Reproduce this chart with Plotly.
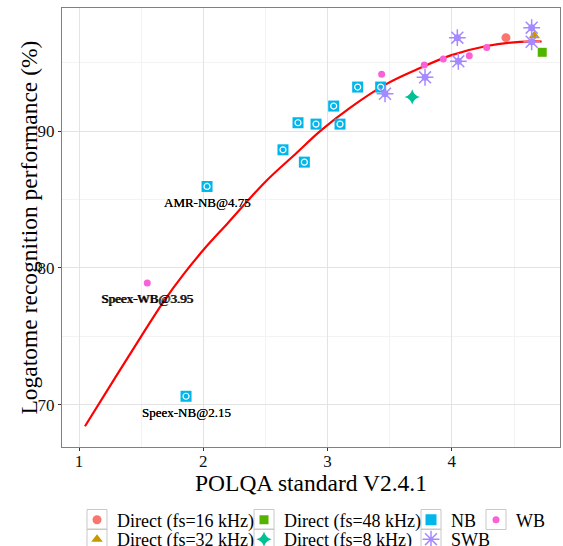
import plotly.graph_objects as go

# ---- data ----
d16_x, d16_y = [4.435], [96.83]
d32_x, d32_y = [4.663], [96.97]
d48_x, d48_y = [4.727], [95.76]
d8_x, d8_y = [3.681], [92.49]
nb_x = [1.861, 2.030, 2.641, 2.762, 2.813, 2.907, 3.049, 3.100, 3.242, 3.427]
nb_y = [70.61, 85.95, 88.63, 90.61, 87.73, 90.51, 91.83, 90.51, 93.22, 93.22]
wb_x = [1.549, 3.435, 3.778, 3.931, 4.140, 4.280]
wb_y = [78.90, 94.15, 94.83, 95.27, 95.51, 96.12]
swb_x = [4.642, 4.642, 4.044, 4.052, 3.784, 3.462]
swb_y = [97.56, 96.53, 96.83, 95.10, 93.93, 92.73]
fit_x = [1.048, 1.30, 1.504, 1.678, 1.839, 2.0, 2.2, 2.5, 2.75, 2.94, 3.18, 3.475, 3.717, 3.985, 4.28, 4.548, 4.722]
fit_y = [68.42, 72.1, 75.05, 77.5, 79.5, 81.3, 83.3, 86.3, 88.4, 90.0, 91.7, 93.45, 94.5, 95.52, 96.22, 96.53, 96.55]
label_text = ["AMR-NB@4.75", "Speex-WB@3.95", "Speex-NB@2.15"]
label_x = [2.030, 1.549, 1.861]
label_y = [85.95, 78.90, 70.61]
x_ticks = [1, 2, 3, 4]
y_ticks = [70, 80, 90]

SERIF = "Liberation Serif"
C16, C32, C48, C8, CNB, CSWB, CWB = "#F8766D", "#C49A00", "#53B400", "#00C094", "#00B6EB", "#A58AFF", "#FB61D7"

ML, MR, MT, MB, W, H = 62, 3, 8, 99, 563, 546
PW, PH = W - ML - MR, H - MT - MB


def px2paper_x(px):
    return (px - ML) / PW


def px2paper_y(py):
    return (H - MB - py) / PH


# legend layout (pixel positions of each entry's text start and row centre)
leg_pos = {
    "legend": (113, 519.5), "legend2": (113, 539),
    "legend3": (280, 519.5), "legend4": (280, 539),
    "legend5": (447, 519.5), "legend6": (447, 539),
    "legend7": (512, 519.5),
}

fig = go.Figure()

fig.add_trace(go.Scatter(x=fit_x, y=fit_y, mode="lines", line=dict(color="red", width=2.2, shape="spline"),
                         showlegend=False, hoverinfo="skip"))

fig.add_trace(go.Scatter(x=d16_x, y=d16_y, mode="markers", name="Direct (fs=16 kHz)", legend="legend",
                         marker=dict(symbol="circle", size=9, color=C16)))
fig.add_trace(go.Scatter(x=d32_x, y=d32_y, mode="markers", name="Direct (fs=32 kHz)", legend="legend2",
                         marker=dict(symbol="triangle-up", size=10, color=C32)))
fig.add_trace(go.Scatter(x=d48_x, y=d48_y, mode="markers", name="Direct (fs=48 kHz)", legend="legend3",
                         marker=dict(symbol="square", size=9, color=C48)))
fig.add_trace(go.Scatter(x=d8_x, y=d8_y, mode="markers", name="Direct (fs=8 kHz)", legend="legend4",
                         marker=dict(symbol="star-diamond", size=11, color=C8)))
fig.add_trace(go.Scatter(x=nb_x, y=nb_y, mode="markers", name="NB", legend="legend5",
                         marker=dict(symbol="square", size=11, color=CNB)))
fig.add_trace(go.Scatter(x=nb_x, y=nb_y, mode="markers", showlegend=False, hoverinfo="skip",
                         marker=dict(symbol="circle-open", size=6, color="white", line=dict(width=1.2, color="white"))))
fig.add_trace(go.Scatter(x=swb_x, y=swb_y, mode="markers", name="SWB", legend="legend6",
                         marker=dict(symbol="asterisk-open", size=14, color=CSWB, line=dict(width=1.5, color=CSWB))))
fig.add_trace(go.Scatter(x=swb_x, y=swb_y, mode="markers", showlegend=False, hoverinfo="skip",
                         marker=dict(symbol="circle", size=7, color=CSWB)))
fig.add_trace(go.Scatter(x=wb_x, y=wb_y, mode="markers", name="WB", legend="legend7",
                         marker=dict(symbol="circle", size=7, color=CWB)))

for t, lx, ly in zip(label_text, label_x, label_y):
    for dx in (0, 0.6):
        fig.add_annotation(x=lx, y=ly, text=t, showarrow=False, yshift=-16, xshift=dx,
                           font=dict(family=SERIF, size=13, color="black"))

# axis titles placed as in the reference (y title sits close to the tick labels)
fig.add_annotation(text="Logatome recognition performance (%)", xref="paper", yref="paper",
                   x=0, y=0.5, xshift=-34, xanchor="center", yanchor="middle", textangle=-90,
                   showarrow=False, font=dict(family=SERIF, size=23.5, color="black"))
fig.add_annotation(text="POLQA standard V2.4.1", xref="paper", yref="paper",
                   x=0.5, y=px2paper_y(482.5), xanchor="center", yanchor="middle",
                   showarrow=False, font=dict(family=SERIF, size=23.5, color="black"))

legends = {}
shapes = []
for name, (tx, cy) in leg_pos.items():
    lx = tx - 36
    legends[name] = dict(orientation="v", yanchor="top", xanchor="left",
                         x=px2paper_x(lx), y=px2paper_y(cy - 18),
                         font=dict(family=SERIF, size=18, color="black"), bgcolor="rgba(0,0,0,0)",
                         tracegroupgap=0, itemwidth=30)
    sx = lx + 20
    shapes.append(dict(type="rect", xref="paper", yref="paper", layer="above",
                       x0=px2paper_x(sx - 10), x1=px2paper_x(sx + 10),
                       y0=px2paper_y(cy - 10), y1=px2paper_y(cy + 10),
                       line=dict(color="#c8c8c8", width=1), fillcolor="rgba(0,0,0,0)"))

fig.update_layout(
    width=W, height=H,
    margin=dict(l=ML, r=MR, t=MT, b=MB, autoexpand=False),
    paper_bgcolor="white", plot_bgcolor="white",
    font=dict(family=SERIF, color="black"),
    shapes=shapes,
    **legends,
    xaxis=dict(range=[0.863, 4.870], tickmode="linear", tick0=x_ticks[0], dtick=x_ticks[1] - x_ticks[0],
               showgrid=True, gridcolor="#e3e3e3", gridwidth=1.2,
               minor=dict(dtick=(x_ticks[1] - x_ticks[0]) / 2, showgrid=True, gridcolor="#f3f3f3",
                          gridwidth=1, ticks=""),
               ticks="outside", ticklen=3, tickcolor="#333333", ticklabelstandoff=-4,
               tickfont=dict(family=SERIF, size=17, color="#111111"),
               showline=True, linecolor="#808080", linewidth=1, mirror=True, zeroline=False),
    yaxis=dict(range=[66.9, 99.0], tickmode="linear", tick0=y_ticks[0], dtick=y_ticks[1] - y_ticks[0],
               showgrid=True, gridcolor="#e3e3e3", gridwidth=1.2,
               minor=dict(dtick=(y_ticks[1] - y_ticks[0]) / 2, showgrid=True, gridcolor="#f3f3f3",
                          gridwidth=1, ticks=""),
               ticks="outside", ticklen=3, tickcolor="#333333",
               tickfont=dict(family=SERIF, size=17, color="#111111"),
               showline=True, linecolor="#808080", linewidth=1, mirror=True, zeroline=False),
)

fig.write_html("out.html")
